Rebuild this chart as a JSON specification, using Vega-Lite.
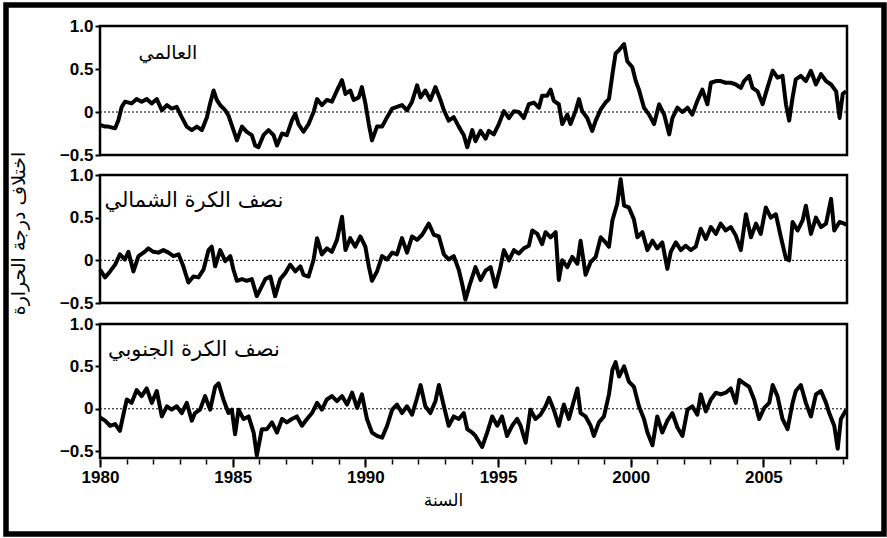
{
  "$schema": "https://vega.github.io/schema/vega-lite/v6.json",
  "width": 878,
  "height": 529,
  "autosize": "none",
  "padding": {"left": 6, "top": 5, "right": 3, "bottom": 4},
  "background": "white",
  "config": {
    "view": {"stroke": "black", "strokeWidth": 5.5},
    "axis": {"labelColor": "black", "tickColor": "black", "domainColor": "black", "titleColor": "black", "grid": false, "labelOverlap": false, "labelFlush": false}
  },
  "datasets": {
    "g": [
      {"t":1980.00,"v":-0.15},{"t":1980.19,"v":-0.17},{"t":1980.31,"v":-0.17},{"t":1980.57,"v":-0.19},{"t":1980.69,"v":-0.10},{"t":1980.82,"v":0.06},{"t":1980.94,"v":0.12},{"t":1981.19,"v":0.10},{"t":1981.38,"v":0.15},{"t":1981.57,"v":0.12},{"t":1981.76,"v":0.15},{"t":1981.95,"v":0.10},{"t":1982.14,"v":0.15},{"t":1982.33,"v":0.02},{"t":1982.52,"v":0.08},{"t":1982.70,"v":0.04},{"t":1982.89,"v":0.06},{"t":1983.08,"v":-0.06},{"t":1983.27,"v":-0.17},{"t":1983.46,"v":-0.21},{"t":1983.65,"v":-0.17},{"t":1983.84,"v":-0.21},{"t":1984.03,"v":-0.06},{"t":1984.15,"v":0.10},{"t":1984.28,"v":0.25},{"t":1984.40,"v":0.14},{"t":1984.53,"v":0.08},{"t":1984.72,"v":0.02},{"t":1984.84,"v":-0.04},{"t":1985.03,"v":-0.21},{"t":1985.16,"v":-0.33},{"t":1985.35,"v":-0.17},{"t":1985.53,"v":-0.23},{"t":1985.72,"v":-0.27},{"t":1985.85,"v":-0.39},{"t":1985.97,"v":-0.41},{"t":1986.16,"v":-0.27},{"t":1986.35,"v":-0.21},{"t":1986.54,"v":-0.27},{"t":1986.67,"v":-0.39},{"t":1986.86,"v":-0.25},{"t":1987.04,"v":-0.27},{"t":1987.23,"v":-0.10},{"t":1987.36,"v":-0.02},{"t":1987.48,"v":-0.14},{"t":1987.67,"v":-0.23},{"t":1987.86,"v":-0.14},{"t":1988.05,"v":0.00},{"t":1988.18,"v":0.15},{"t":1988.36,"v":0.08},{"t":1988.55,"v":0.14},{"t":1988.74,"v":0.12},{"t":1988.93,"v":0.25},{"t":1989.12,"v":0.37},{"t":1989.25,"v":0.21},{"t":1989.43,"v":0.25},{"t":1989.56,"v":0.14},{"t":1989.75,"v":0.17},{"t":1989.87,"v":0.29},{"t":1990.00,"v":0.10},{"t":1990.13,"v":-0.14},{"t":1990.25,"v":-0.33},{"t":1990.44,"v":-0.17},{"t":1990.63,"v":-0.17},{"t":1990.82,"v":-0.06},{"t":1991.01,"v":0.04},{"t":1991.19,"v":0.06},{"t":1991.38,"v":0.08},{"t":1991.57,"v":0.02},{"t":1991.76,"v":0.12},{"t":1991.95,"v":0.31},{"t":1992.08,"v":0.17},{"t":1992.26,"v":0.25},{"t":1992.45,"v":0.14},{"t":1992.64,"v":0.29},{"t":1992.83,"v":0.14},{"t":1992.96,"v":0.02},{"t":1993.14,"v":-0.10},{"t":1993.33,"v":-0.06},{"t":1993.52,"v":-0.17},{"t":1993.71,"v":-0.27},{"t":1993.84,"v":-0.41},{"t":1994.03,"v":-0.21},{"t":1994.15,"v":-0.34},{"t":1994.34,"v":-0.22},{"t":1994.53,"v":-0.31},{"t":1994.65,"v":-0.22},{"t":1994.84,"v":-0.26},{"t":1995.03,"v":-0.14},{"t":1995.22,"v":0.01},{"t":1995.41,"v":-0.07},{"t":1995.60,"v":0.01},{"t":1995.78,"v":0.00},{"t":1995.97,"v":-0.07},{"t":1996.16,"v":0.09},{"t":1996.35,"v":0.11},{"t":1996.54,"v":0.05},{"t":1996.66,"v":0.19},{"t":1996.85,"v":0.19},{"t":1996.98,"v":0.26},{"t":1997.10,"v":0.13},{"t":1997.29,"v":0.09},{"t":1997.42,"v":-0.14},{"t":1997.61,"v":-0.03},{"t":1997.73,"v":-0.14},{"t":1997.92,"v":0.01},{"t":1998.05,"v":0.15},{"t":1998.17,"v":0.01},{"t":1998.36,"v":-0.07},{"t":1998.55,"v":-0.22},{"t":1998.68,"v":-0.10},{"t":1998.87,"v":0.03},{"t":1999.05,"v":0.11},{"t":1999.18,"v":0.15},{"t":1999.31,"v":0.44},{"t":1999.43,"v":0.68},{"t":1999.56,"v":0.72},{"t":1999.75,"v":0.79},{"t":1999.87,"v":0.59},{"t":2000.06,"v":0.52},{"t":2000.19,"v":0.36},{"t":2000.31,"v":0.26},{"t":2000.50,"v":0.05},{"t":2000.69,"v":-0.03},{"t":2000.88,"v":-0.14},{"t":2001.07,"v":0.09},{"t":2001.26,"v":-0.03},{"t":2001.45,"v":-0.26},{"t":2001.57,"v":-0.07},{"t":2001.76,"v":0.05},{"t":2001.95,"v":0.00},{"t":2002.14,"v":0.05},{"t":2002.32,"v":-0.03},{"t":2002.51,"v":0.13},{"t":2002.70,"v":0.26},{"t":2002.89,"v":0.09},{"t":2003.02,"v":0.34},{"t":2003.21,"v":0.36},{"t":2003.39,"v":0.36},{"t":2003.58,"v":0.34},{"t":2003.77,"v":0.34},{"t":2003.96,"v":0.32},{"t":2004.15,"v":0.28},{"t":2004.27,"v":0.36},{"t":2004.46,"v":0.42},{"t":2004.59,"v":0.28},{"t":2004.78,"v":0.24},{"t":2004.97,"v":0.09},{"t":2005.15,"v":0.28},{"t":2005.35,"v":0.48},{"t":2005.53,"v":0.40},{"t":2005.72,"v":0.42},{"t":2005.85,"v":0.09},{"t":2005.97,"v":-0.10},{"t":2006.10,"v":0.17},{"t":2006.22,"v":0.38},{"t":2006.41,"v":0.42},{"t":2006.60,"v":0.36},{"t":2006.79,"v":0.48},{"t":2006.98,"v":0.32},{"t":2007.17,"v":0.44},{"t":2007.36,"v":0.36},{"t":2007.55,"v":0.32},{"t":2007.74,"v":0.24},{"t":2007.87,"v":-0.07},{"t":2007.99,"v":0.21},{"t":2008.12,"v":0.24}
    ],
    "n": [
      {"t":1980.00,"v":-0.11},{"t":1980.19,"v":-0.20},{"t":1980.38,"v":-0.13},{"t":1980.57,"v":-0.05},{"t":1980.75,"v":0.07},{"t":1980.94,"v":0.01},{"t":1981.07,"v":0.10},{"t":1981.26,"v":-0.13},{"t":1981.45,"v":0.05},{"t":1981.64,"v":0.09},{"t":1981.82,"v":0.14},{"t":1982.01,"v":0.10},{"t":1982.20,"v":0.09},{"t":1982.39,"v":0.12},{"t":1982.58,"v":0.09},{"t":1982.77,"v":0.05},{"t":1982.96,"v":0.07},{"t":1983.14,"v":-0.07},{"t":1983.33,"v":-0.26},{"t":1983.52,"v":-0.19},{"t":1983.71,"v":-0.20},{"t":1983.90,"v":-0.11},{"t":1984.09,"v":0.12},{"t":1984.21,"v":0.16},{"t":1984.34,"v":-0.07},{"t":1984.53,"v":0.12},{"t":1984.72,"v":-0.01},{"t":1984.91,"v":0.05},{"t":1985.03,"v":-0.11},{"t":1985.16,"v":-0.24},{"t":1985.35,"v":-0.22},{"t":1985.53,"v":-0.24},{"t":1985.72,"v":-0.22},{"t":1985.91,"v":-0.42},{"t":1986.04,"v":-0.34},{"t":1986.23,"v":-0.22},{"t":1986.42,"v":-0.19},{"t":1986.60,"v":-0.42},{"t":1986.79,"v":-0.22},{"t":1986.98,"v":-0.15},{"t":1987.17,"v":-0.05},{"t":1987.36,"v":-0.13},{"t":1987.55,"v":-0.07},{"t":1987.67,"v":-0.17},{"t":1987.86,"v":-0.19},{"t":1988.05,"v":0.01},{"t":1988.18,"v":0.26},{"t":1988.36,"v":0.07},{"t":1988.55,"v":0.14},{"t":1988.74,"v":0.10},{"t":1988.93,"v":0.24},{"t":1989.12,"v":0.51},{"t":1989.25,"v":0.12},{"t":1989.43,"v":0.26},{"t":1989.62,"v":0.16},{"t":1989.81,"v":0.28},{"t":1990.00,"v":0.16},{"t":1990.13,"v":-0.07},{"t":1990.25,"v":-0.24},{"t":1990.44,"v":-0.13},{"t":1990.63,"v":0.05},{"t":1990.82,"v":0.01},{"t":1991.01,"v":0.09},{"t":1991.19,"v":0.07},{"t":1991.38,"v":0.26},{"t":1991.57,"v":0.09},{"t":1991.76,"v":0.28},{"t":1991.95,"v":0.24},{"t":1992.14,"v":0.30},{"t":1992.39,"v":0.43},{"t":1992.58,"v":0.30},{"t":1992.77,"v":0.28},{"t":1992.96,"v":0.07},{"t":1993.14,"v":0.01},{"t":1993.33,"v":0.05},{"t":1993.52,"v":-0.11},{"t":1993.65,"v":-0.28},{"t":1993.77,"v":-0.46},{"t":1993.96,"v":-0.26},{"t":1994.15,"v":-0.08},{"t":1994.34,"v":-0.23},{"t":1994.53,"v":-0.12},{"t":1994.72,"v":-0.08},{"t":1994.90,"v":-0.31},{"t":1995.09,"v":-0.08},{"t":1995.22,"v":0.12},{"t":1995.41,"v":0.00},{"t":1995.60,"v":0.12},{"t":1995.78,"v":0.08},{"t":1995.97,"v":0.14},{"t":1996.16,"v":0.17},{"t":1996.29,"v":0.35},{"t":1996.48,"v":0.31},{"t":1996.66,"v":0.19},{"t":1996.79,"v":0.33},{"t":1996.98,"v":0.27},{"t":1997.17,"v":0.33},{"t":1997.29,"v":-0.23},{"t":1997.42,"v":0.00},{"t":1997.61,"v":-0.08},{"t":1997.80,"v":0.04},{"t":1997.99,"v":-0.04},{"t":1998.11,"v":0.23},{"t":1998.30,"v":-0.17},{"t":1998.49,"v":-0.02},{"t":1998.68,"v":0.04},{"t":1998.87,"v":0.27},{"t":1999.05,"v":0.21},{"t":1999.18,"v":0.16},{"t":1999.31,"v":0.47},{"t":1999.49,"v":0.66},{"t":1999.62,"v":0.95},{"t":1999.75,"v":0.64},{"t":1999.93,"v":0.62},{"t":2000.12,"v":0.48},{"t":2000.25,"v":0.27},{"t":2000.44,"v":0.33},{"t":2000.63,"v":0.12},{"t":2000.82,"v":0.23},{"t":2001.00,"v":0.14},{"t":2001.19,"v":0.21},{"t":2001.38,"v":-0.10},{"t":2001.51,"v":0.10},{"t":2001.70,"v":0.21},{"t":2001.89,"v":0.12},{"t":2002.07,"v":0.17},{"t":2002.26,"v":0.12},{"t":2002.45,"v":0.16},{"t":2002.64,"v":0.37},{"t":2002.83,"v":0.25},{"t":2003.02,"v":0.39},{"t":2003.21,"v":0.31},{"t":2003.39,"v":0.43},{"t":2003.58,"v":0.35},{"t":2003.77,"v":0.39},{"t":2003.96,"v":0.29},{"t":2004.15,"v":0.12},{"t":2004.34,"v":0.54},{"t":2004.53,"v":0.27},{"t":2004.72,"v":0.43},{"t":2004.90,"v":0.31},{"t":2005.09,"v":0.62},{"t":2005.28,"v":0.50},{"t":2005.47,"v":0.54},{"t":2005.66,"v":0.27},{"t":2005.85,"v":0.02},{"t":2005.97,"v":0.00},{"t":2006.10,"v":0.45},{"t":2006.29,"v":0.35},{"t":2006.48,"v":0.47},{"t":2006.60,"v":0.64},{"t":2006.79,"v":0.31},{"t":2006.98,"v":0.50},{"t":2007.17,"v":0.39},{"t":2007.36,"v":0.43},{"t":2007.55,"v":0.72},{"t":2007.67,"v":0.35},{"t":2007.87,"v":0.45},{"t":2008.05,"v":0.43},{"t":2008.12,"v":0.41}
    ],
    "s": [
      {"t":1980.00,"v":-0.10},{"t":1980.19,"v":-0.14},{"t":1980.38,"v":-0.20},{"t":1980.57,"v":-0.18},{"t":1980.75,"v":-0.26},{"t":1980.88,"v":-0.07},{"t":1981.01,"v":0.11},{"t":1981.19,"v":0.07},{"t":1981.38,"v":0.22},{"t":1981.57,"v":0.15},{"t":1981.76,"v":0.24},{"t":1981.95,"v":0.07},{"t":1982.14,"v":0.21},{"t":1982.33,"v":-0.09},{"t":1982.52,"v":0.03},{"t":1982.70,"v":-0.01},{"t":1982.89,"v":0.03},{"t":1983.08,"v":-0.05},{"t":1983.27,"v":0.07},{"t":1983.46,"v":-0.14},{"t":1983.58,"v":-0.05},{"t":1983.77,"v":-0.01},{"t":1983.96,"v":0.15},{"t":1984.15,"v":-0.01},{"t":1984.34,"v":0.26},{"t":1984.47,"v":0.30},{"t":1984.65,"v":0.11},{"t":1984.84,"v":-0.05},{"t":1984.97,"v":-0.01},{"t":1985.09,"v":-0.30},{"t":1985.22,"v":-0.01},{"t":1985.41,"v":-0.12},{"t":1985.60,"v":-0.09},{"t":1985.79,"v":-0.28},{"t":1985.91,"v":-0.55},{"t":1986.10,"v":-0.24},{"t":1986.29,"v":-0.24},{"t":1986.48,"v":-0.16},{"t":1986.67,"v":-0.28},{"t":1986.86,"v":-0.12},{"t":1987.04,"v":-0.16},{"t":1987.23,"v":-0.12},{"t":1987.42,"v":-0.09},{"t":1987.61,"v":-0.20},{"t":1987.80,"v":-0.12},{"t":1987.99,"v":-0.05},{"t":1988.18,"v":0.07},{"t":1988.36,"v":-0.01},{"t":1988.55,"v":0.11},{"t":1988.74,"v":0.15},{"t":1988.93,"v":0.09},{"t":1989.12,"v":0.15},{"t":1989.31,"v":0.05},{"t":1989.50,"v":0.19},{"t":1989.69,"v":0.01},{"t":1989.87,"v":0.17},{"t":1990.06,"v":-0.12},{"t":1990.25,"v":-0.28},{"t":1990.44,"v":-0.32},{"t":1990.63,"v":-0.34},{"t":1990.82,"v":-0.20},{"t":1991.01,"v":-0.01},{"t":1991.19,"v":0.05},{"t":1991.38,"v":-0.05},{"t":1991.57,"v":0.03},{"t":1991.76,"v":-0.07},{"t":1991.95,"v":0.13},{"t":1992.08,"v":0.28},{"t":1992.26,"v":0.03},{"t":1992.45,"v":-0.05},{"t":1992.64,"v":0.09},{"t":1992.77,"v":0.28},{"t":1992.96,"v":0.03},{"t":1993.14,"v":-0.20},{"t":1993.33,"v":-0.09},{"t":1993.52,"v":-0.12},{"t":1993.71,"v":-0.05},{"t":1993.84,"v":-0.24},{"t":1994.03,"v":-0.28},{"t":1994.15,"v":-0.32},{"t":1994.40,"v":-0.45},{"t":1994.59,"v":-0.28},{"t":1994.78,"v":-0.09},{"t":1994.97,"v":-0.20},{"t":1995.15,"v":-0.09},{"t":1995.34,"v":-0.32},{"t":1995.53,"v":-0.20},{"t":1995.72,"v":-0.12},{"t":1995.85,"v":-0.20},{"t":1996.04,"v":-0.40},{"t":1996.22,"v":-0.01},{"t":1996.41,"v":-0.12},{"t":1996.60,"v":-0.07},{"t":1996.79,"v":0.03},{"t":1996.92,"v":0.13},{"t":1997.10,"v":-0.01},{"t":1997.29,"v":-0.20},{"t":1997.48,"v":0.05},{"t":1997.67,"v":-0.12},{"t":1997.80,"v":0.03},{"t":1997.99,"v":0.24},{"t":1998.11,"v":-0.05},{"t":1998.30,"v":-0.09},{"t":1998.49,"v":-0.20},{"t":1998.61,"v":-0.32},{"t":1998.80,"v":-0.16},{"t":1998.99,"v":-0.09},{"t":1999.18,"v":0.17},{"t":1999.31,"v":0.46},{"t":1999.43,"v":0.55},{"t":1999.56,"v":0.38},{"t":1999.75,"v":0.50},{"t":1999.93,"v":0.32},{"t":2000.12,"v":0.26},{"t":2000.31,"v":0.03},{"t":2000.50,"v":-0.12},{"t":2000.63,"v":-0.28},{"t":2000.82,"v":-0.43},{"t":2001.00,"v":-0.09},{"t":2001.19,"v":-0.28},{"t":2001.38,"v":-0.14},{"t":2001.57,"v":-0.05},{"t":2001.76,"v":-0.22},{"t":2001.95,"v":-0.32},{"t":2002.14,"v":-0.01},{"t":2002.32,"v":0.03},{"t":2002.51,"v":-0.07},{"t":2002.64,"v":0.17},{"t":2002.83,"v":-0.03},{"t":2003.02,"v":0.11},{"t":2003.21,"v":0.19},{"t":2003.39,"v":0.17},{"t":2003.58,"v":0.19},{"t":2003.77,"v":0.24},{"t":2003.96,"v":0.07},{"t":2004.09,"v":0.34},{"t":2004.27,"v":0.30},{"t":2004.46,"v":0.26},{"t":2004.65,"v":0.11},{"t":2004.84,"v":-0.12},{"t":2005.03,"v":0.01},{"t":2005.22,"v":0.07},{"t":2005.35,"v":0.28},{"t":2005.53,"v":0.15},{"t":2005.72,"v":-0.12},{"t":2005.91,"v":-0.24},{"t":2006.10,"v":0.07},{"t":2006.22,"v":0.21},{"t":2006.41,"v":0.28},{"t":2006.60,"v":0.07},{"t":2006.79,"v":-0.09},{"t":2006.98,"v":0.17},{"t":2007.17,"v":0.21},{"t":2007.36,"v":0.07},{"t":2007.48,"v":-0.05},{"t":2007.67,"v":-0.20},{"t":2007.80,"v":-0.47},{"t":2007.92,"v":-0.12},{"t":2008.05,"v":-0.05},{"t":2008.12,"v":-0.01}
    ]
  },
  "layer": [
    {
      "data": {"values": [{}]},
      "mark": {"type": "rect", "filled": false, "color": "black", "strokeWidth": 2.5},
      "encoding": {
        "x": {"datum": 1980, "type": "quantitative", "scale": {"domain": [1980, 2008.15], "range": [94, 841], "nice": false, "zero": false}, "axis": null},
        "x2": {"datum": 2008.15},
        "y": {"datum": -0.5, "type": "quantitative", "scale": {"domain": [-0.5, 1], "range": [150, 21], "nice": false, "zero": false}, "axis": null},
        "y2": {"datum": 1.0}
      }
    },
    {
      "data": {"values": [{}]},
      "mark": {"type": "rule", "color": "black", "strokeWidth": 1, "strokeDash": [2, 2]},
      "encoding": {
        "x": {"datum": 1980, "type": "quantitative", "scale": {"domain": [1980, 2008.15], "range": [94, 841], "nice": false, "zero": false}, "axis": null},
        "x2": {"datum": 2008.15},
        "y": {"datum": 0, "type": "quantitative", "scale": {"domain": [-0.5, 1], "range": [150, 21], "nice": false, "zero": false}, "axis": null}
      }
    },
    {
      "data": {"name": "g"},
      "mark": {"type": "line", "color": "black", "strokeWidth": 4, "strokeJoin": "round"},
      "encoding": {
        "x": {"field": "t", "type": "quantitative", "scale": {"domain": [1980, 2008.15], "range": [94, 841], "nice": false, "zero": false}, "axis": null},
        "y": {"field": "v", "type": "quantitative", "scale": {"domain": [-0.5, 1], "range": [150, 21], "nice": false, "zero": false},
          "axis": {"orient": "left", "offset": -94, "values": [-0.5, 0, 0.5, 1], "labelExpr": "datum.value == 0 ? '0' : format(datum.value, '.1f')", "domain": false, "tickSize": 5, "tickWidth": 2, "labelFont": "Liberation Sans", "labelFontWeight": "bold", "labelFontSize": 17, "labelPadding": 2, "title": null}}
      }
    },
    {
      "data": {"values": [{}]},
      "mark": {"type": "text", "font": "DejaVu Sans", "fontSize": 19, "color": "black", "align": "center", "baseline": "middle"},
      "encoding": {
        "x": {"datum": 1982.56, "type": "quantitative", "scale": {"domain": [1980, 2008.15], "range": [94, 841], "nice": false, "zero": false}, "axis": null},
        "y": {"datum": 0.69, "type": "quantitative", "scale": {"domain": [-0.5, 1], "range": [150, 21], "nice": false, "zero": false}, "axis": null},
        "text": {"value": "العالمي"}
      }
    },
    {
      "data": {"values": [{}]},
      "mark": {"type": "rect", "filled": false, "color": "black", "strokeWidth": 2.5},
      "encoding": {
        "x": {"datum": 1980, "type": "quantitative", "scale": {"domain": [1980, 2008.15], "range": [94, 841], "nice": false, "zero": false}, "axis": null},
        "x2": {"datum": 2008.15},
        "y": {"datum": -0.5, "type": "quantitative", "scale": {"domain": [-0.5, 1], "range": [298, 170], "nice": false, "zero": false}, "axis": null},
        "y2": {"datum": 1.0}
      }
    },
    {
      "data": {"values": [{}]},
      "mark": {"type": "rule", "color": "black", "strokeWidth": 1, "strokeDash": [2, 2]},
      "encoding": {
        "x": {"datum": 1980, "type": "quantitative", "scale": {"domain": [1980, 2008.15], "range": [94, 841], "nice": false, "zero": false}, "axis": null},
        "x2": {"datum": 2008.15},
        "y": {"datum": 0, "type": "quantitative", "scale": {"domain": [-0.5, 1], "range": [298, 170], "nice": false, "zero": false}, "axis": null}
      }
    },
    {
      "data": {"name": "n"},
      "mark": {"type": "line", "color": "black", "strokeWidth": 4, "strokeJoin": "round"},
      "encoding": {
        "x": {"field": "t", "type": "quantitative", "scale": {"domain": [1980, 2008.15], "range": [94, 841], "nice": false, "zero": false},
          "axis": {"orient": "bottom", "offset": -75, "values": [1980,1981,1982,1983,1984,1985,1986,1987,1988,1989,1990,1991,1992,1993,1994,1995,1996,1997,1998,1999,2000,2001,2002,2003,2004,2005,2006,2007,2008], "labels": false, "domain": false, "tickSize": 5, "tickWidth": 1.5, "title": null}},
        "y": {"field": "v", "type": "quantitative", "scale": {"domain": [-0.5, 1], "range": [298, 170], "nice": false, "zero": false},
          "axis": {"orient": "left", "offset": -94, "values": [-0.5, 0, 0.5, 1], "labelExpr": "datum.value == 0 ? '0' : format(datum.value, '.1f')", "domain": false, "tickSize": 5, "tickWidth": 2, "labelFont": "Liberation Sans", "labelFontWeight": "bold", "labelFontSize": 17, "labelPadding": 2,
            "title": "اختلاف درجة الحرارة", "titleFont": "DejaVu Sans", "titleFontSize": 19, "titleFontWeight": "normal", "titleAngle": -90, "titleX": -82, "titleY": 228, "titleAlign": "center", "titleBaseline": "middle"}}
      }
    },
    {
      "data": {"values": [{}]},
      "mark": {"type": "text", "font": "DejaVu Sans", "fontSize": 21, "color": "black", "align": "center", "baseline": "middle"},
      "encoding": {
        "x": {"datum": 1983.54, "type": "quantitative", "scale": {"domain": [1980, 2008.15], "range": [94, 841], "nice": false, "zero": false}, "axis": null},
        "y": {"datum": 0.69, "type": "quantitative", "scale": {"domain": [-0.5, 1], "range": [298, 170], "nice": false, "zero": false}, "axis": null},
        "text": {"value": "نصف الكرة الشمالي"}
      }
    },
    {
      "data": {"values": [{}]},
      "mark": {"type": "rect", "filled": false, "color": "black", "strokeWidth": 2.5},
      "encoding": {
        "x": {"datum": 1980, "type": "quantitative", "scale": {"domain": [1980, 2008.15], "range": [94, 841], "nice": false, "zero": false}, "axis": null},
        "x2": {"datum": 2008.15},
        "y": {"datum": -0.58, "type": "quantitative", "scale": {"domain": [-0.58, 1], "range": [453, 319], "nice": false, "zero": false}, "axis": null},
        "y2": {"datum": 1.0}
      }
    },
    {
      "data": {"values": [{}]},
      "mark": {"type": "rule", "color": "black", "strokeWidth": 1, "strokeDash": [2, 2]},
      "encoding": {
        "x": {"datum": 1980, "type": "quantitative", "scale": {"domain": [1980, 2008.15], "range": [94, 841], "nice": false, "zero": false}, "axis": null},
        "x2": {"datum": 2008.15},
        "y": {"datum": 0, "type": "quantitative", "scale": {"domain": [-0.58, 1], "range": [453, 319], "nice": false, "zero": false}, "axis": null}
      }
    },
    {
      "data": {"name": "s"},
      "mark": {"type": "line", "color": "black", "strokeWidth": 4, "strokeJoin": "round"},
      "encoding": {
        "x": {"field": "t", "type": "quantitative", "scale": {"domain": [1980, 2008.15], "range": [94, 841], "nice": false, "zero": false},
          "axis": {"orient": "bottom", "offset": -75, "values": [1980, 1985, 1990, 1995, 2000, 2005], "format": "d", "domain": false, "tickSize": 8, "tickWidth": 2, "labelFont": "Liberation Sans", "labelFontWeight": "bold", "labelFontSize": 17, "labelPadding": 2,
            "title": "السنة", "titleFont": "DejaVu Sans", "titleFontSize": 17, "titleFontWeight": "normal", "titleX": 437, "titleY": 41, "titleAlign": "center", "titleBaseline": "middle"}},
        "y": {"field": "v", "type": "quantitative", "scale": {"domain": [-0.58, 1], "range": [453, 319], "nice": false, "zero": false},
          "axis": {"orient": "left", "offset": -94, "values": [-0.5, 0, 0.5, 1], "labelExpr": "datum.value == 0 ? '0' : format(datum.value, '.1f')", "domain": false, "tickSize": 5, "tickWidth": 2, "labelFont": "Liberation Sans", "labelFontWeight": "bold", "labelFontSize": 17, "labelPadding": 2, "title": null}}
      }
    },
    {
      "data": {"values": [{}]},
      "mark": {"type": "text", "font": "DejaVu Sans", "fontSize": 21, "color": "black", "align": "center", "baseline": "middle"},
      "encoding": {
        "x": {"datum": 1983.54, "type": "quantitative", "scale": {"domain": [1980, 2008.15], "range": [94, 841], "nice": false, "zero": false}, "axis": null},
        "y": {"datum": 0.69, "type": "quantitative", "scale": {"domain": [-0.58, 1], "range": [453, 319], "nice": false, "zero": false}, "axis": null},
        "text": {"value": "نصف الكرة الجنوبي"}
      }
    }
  ],
  "resolve": {"scale": {"y": "independent"}, "axis": {"y": "independent", "x": "independent"}}
}
